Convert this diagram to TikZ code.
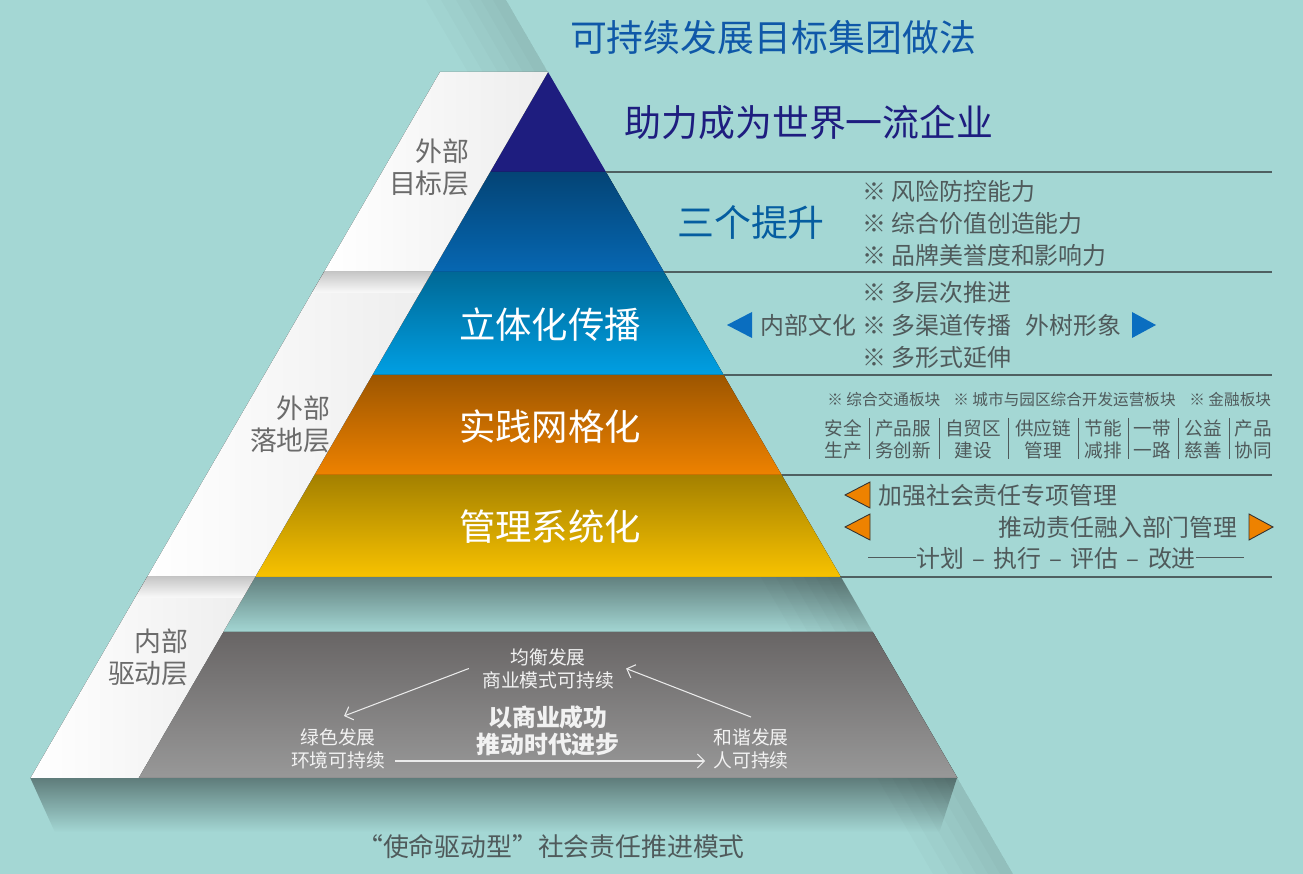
\documentclass[tikz,border=0pt]{standalone}
\usepackage{fontspec}
\setmainfont{Noto Sans CJK SC}
\usepackage{tikz}
\usetikzlibrary{positioning,calc,arrows.meta,fadings}
\usepackage{xcolor}
\definecolor{bgteal}{HTML}{A4D7D4}
\definecolor{titleblue}{HTML}{0F58A8}
\definecolor{navyc}{HTML}{1E1D7F}
\definecolor{bluec}{HTML}{0667B2}
\definecolor{cyanc}{HTML}{009FE3}
\definecolor{orangec}{HTML}{EE8200}
\definecolor{yellowc}{HTML}{F8C200}
\definecolor{graytop}{HTML}{686565}
\definecolor{graybot}{HTML}{989898}
\definecolor{txtgray}{HTML}{4F5A5B}
\definecolor{lblgray}{HTML}{6B6B6B}
\definecolor{arrblue}{HTML}{0A6EC0}
\definecolor{ruleline}{HTML}{4F6061}
\newcommand{\longdash}{\rule[0.36em]{2em}{0.06em}}

\begin{document}
\begin{tikzpicture}[
    x=0.02cm, y=-0.02cm,
    band/.style={top color=#1!66!black, middle color=#1, bottom color=#1},
    strip/.style={left color=white, right color=white!93!black},
    shade/.style={black, opacity=0.015},
    rule/.style={draw=ruleline, line width=0.6pt},
    sepline/.style={draw=txtgray, line width=0.5pt},
    headtxt/.style={inner sep=0pt, font=\fontsize{21}{24}\selectfont},
    bandlbl/.style={inner sep=0pt, text=white, font=\fontsize{20.7}{24}\selectfont},
    layerlbl/.style={inner sep=0pt, text=lblgray, align=right, anchor=east,
                     font=\fontsize{15.3}{18.2}\selectfont},
    sidetxt/.style={inner sep=0pt, text=txtgray, anchor=west,
                    font=\fontsize{13.6}{16}\selectfont},
    sectortxt/.style={inner sep=0pt, text=txtgray, anchor=west,
                      font=\fontsize{8.9}{11}\selectfont},
    cell/.style={inner sep=0pt, text=txtgray, align=center,
                 font=\fontsize{10.6}{12.5}\selectfont},
    basetxt/.style={inner sep=0pt, text=white!95!black, align=center,
                    font=\fontsize{10.7}{13}\selectfont},
    tri/.style={fill=orangec, draw=black!80, line width=0.5pt},
    flow/.style={draw=white!92!black, line width=0.6pt,
                 -{Straight Barb[length=4pt, width=8pt]}}
]
\useasboundingbox (0,0) rectangle (1303,874);

% background + long diagonal shadow
\fill[bgteal] (0,0) rectangle (1303,874);
\fill[shade] (506,0) -- (1013,874) -- (933,874) -- (426,0) -- cycle;
\fill[shade] (506,0) -- (1013,874) -- (948,874) -- (441,0) -- cycle;
\fill[shade] (506,0) -- (1013,874) -- (963,874) -- (456,0) -- cycle;
\fill[shade] (506,0) -- (1013,874) -- (976,874) -- (469,0) -- cycle;
\fill[shade] (506,0) -- (1013,874) -- (988,874) -- (481,0) -- cycle;
\fill[shade] (506,0) -- (1013,874) -- (1000,874) -- (493,0) -- cycle;

% pyramid layers
\fill[navyc] (548,72) -- (606,172) -- (490,172) -- cycle;
\fill[band=bluec] (490,172) -- (606,172) -- (664,272) -- (432,272) -- cycle;
\fill[band=cyanc] (432,272) -- (664,272) -- (723.7,375) -- (372.3,375) -- cycle;
\fill[band=orangec] (372.3,375) -- (723.7,375) -- (781.7,475) -- (314.3,475) -- cycle;
\fill[band=yellowc] (314.3,475) -- (781.7,475) -- (840.9,577) -- (255.1,577) -- cycle;
\fill[black, opacity=0.4, path fading=south]
    (255.1,577) -- (840.9,577) -- (872.8,632) -- (223.2,632) -- cycle;
\fill[top color=graytop, bottom color=graybot]
    (223.2,632) -- (872.8,632) -- (957.5,778) -- (138.5,778) -- cycle;
\fill[black, opacity=0.42, path fading=south]
    (30.5,778) -- (957.5,778) -- (940,832) -- (55,832) -- cycle;

% white label strip, three pieces
\fill[strip] (440,72) -- (548,72) -- (432,272) -- (324,272) -- cycle;
\fill[strip] (324,272) -- (432,272) -- (255.1,577) -- (147.1,577) -- cycle;
\fill[strip] (147.1,577) -- (255.1,577) -- (138.5,778) -- (30.5,778) -- cycle;
\fill[top color=black!22, bottom color=white!98!black]
    (324,272) -- (432,272) -- (419.8,293) -- (311.8,293) -- cycle;
\fill[top color=black!22, bottom color=white!98!black]
    (147.1,577) -- (255.1,577) -- (242.9,598) -- (134.9,598) -- cycle;

% rules on the right
\draw[rule] (606,172) -- (1272,172);
\draw[rule] (664,272) -- (1272,272);
\draw[rule] (723.7,375) -- (1272,375);
\draw[rule] (781.7,475) -- (1272,475);
\draw[rule] (840.9,577) -- (1272,577);

% headings
\node[headtxt, text=titleblue] (head) at (773,37) {可持续发展目标集团做法};
\node[headtxt, text=navyc] (goal) at (809,122) {助力成为世界一流企业};
\node[headtxt, text=bluec!90!black] (three) at (751,223) {三个提升};

% layer names
\node[layerlbl] (lyr1) at (470,167) {外部\\目标层};
\node[layerlbl] (lyr2) at (331,424) {外部\\落地层};
\node[layerlbl] (lyr3) at (189,657) {内部\\驱动层};

% band labels
\node[bandlbl] (spread) at (550,325) {立体化传播};
\node[bandlbl] (grid) at (550,427) {实践网格化};
\node[bandlbl] (manage) at (550,527) {管理系统化};

% three improvements
\node[sidetxt] (imp1) at (862,191) {※ 风险防控能力};
\node[sidetxt] (imp2) at (862,223) {※ 综合价值创造能力};
\node[sidetxt] (imp3) at (862,255) {※ 品牌美誉度和影响力};

% communication
\node[sidetxt] (com1) at (862,293) {※ 多层次推进};
\node[sidetxt] (com2) at (862,325) {※ 多渠道传播};
\node[sidetxt] (com3) at (862,357) {※ 多形式延伸};
\node[sidetxt] (inner) at (760,325) {内部文化};
\node[sidetxt] (outer) at (1025,325) {外树形象};
\fill[arrblue] (727,325) -- (752,312) -- (752,338) -- cycle;
\fill[arrblue] (1156,325) -- (1132,312) -- (1132,338) -- cycle;

% sectors and grid cells
\node[sectortxt] (sec1) at (827,400) {※ 综合交通板块};
\node[sectortxt] (sec2) at (953,400) {※ 城市与园区综合开发运营板块};
\node[sectortxt] (sec3) at (1189,400) {※ 金融板块};
\node[cell] (g1) at (843,439) {安全\\生产};
\node[cell] (g2) at (903,439) {产品服\\务创新};
\node[cell] (g3) at (973,439) {自贸区\\建设};
\node[cell] (g4) at (1043,439) {供应链\\管理};
\node[cell] (g5) at (1103,439) {节能\\减排};
\node[cell] (g6) at (1152,439) {一带\\一路};
\node[cell] (g7) at (1203,439) {公益\\慈善};
\node[cell] (g8) at (1253.5,439) {产品\\协同};
\draw[sepline] (869,418) -- (869,459);
\draw[sepline] (939,418) -- (939,459);
\draw[sepline] (1008,418) -- (1008,459);
\draw[sepline] (1078,418) -- (1078,459);
\draw[sepline] (1128,418) -- (1128,459);
\draw[sepline] (1178,418) -- (1178,459);
\draw[sepline] (1229,418) -- (1229,459);

% management
\node[sidetxt] (mg1) at (878,495) {加强社会责任专项管理};
\node[sidetxt, anchor=east] (mg2) at (1238,527) {推动责任融入部门管理};
\node[sidetxt, anchor=center] (mg3) at (1056,558)
    {\longdash 计划\hspace{0.35em}–\hspace{0.35em}执行\hspace{0.35em}–\hspace{0.35em}评估\hspace{0.35em}–\hspace{0.35em}改进\longdash};
\filldraw[tri] (845,495) -- (870,482) -- (870,508) -- cycle;
\filldraw[tri] (845,527) -- (870,514) -- (870,540) -- cycle;
\filldraw[tri] (1273,527) -- (1249,514) -- (1249,540) -- cycle;

% driving base
\node[basetxt] (bal) at (548,668.5) {均衡发展\\商业模式可持续};
\node[basetxt] (green) at (338,748.5) {绿色发展\\环境可持续};
\node[basetxt] (harm) at (751,748.5) {和谐发展\\人可持续};
\node[basetxt, font=\fontsize{13.6}{15.5}\selectfont\bfseries] (core) at (548,730.5) {以商业成功\\推动时代进步};
\draw[flow] ([xshift=-0.26cm]bal.west) -- ([xshift=0.12cm, yshift=0.24cm]green.north);
\draw[flow] ([yshift=0.22cm]harm.north) -- ([xshift=0.24cm]bal.east);
\draw[flow] ([xshift=0.2cm, yshift=-0.25cm]green.east) -- ([xshift=-0.16cm, yshift=-0.25cm]harm.west);

% caption
\node[sidetxt, anchor=center, font=\fontsize{14.7}{17}\selectfont] (cap) at (551,847)
    {\makebox[1em][r]{“}使命驱动型\makebox[1em][l]{”}社会责任推进模式};

\end{tikzpicture}
\end{document}
